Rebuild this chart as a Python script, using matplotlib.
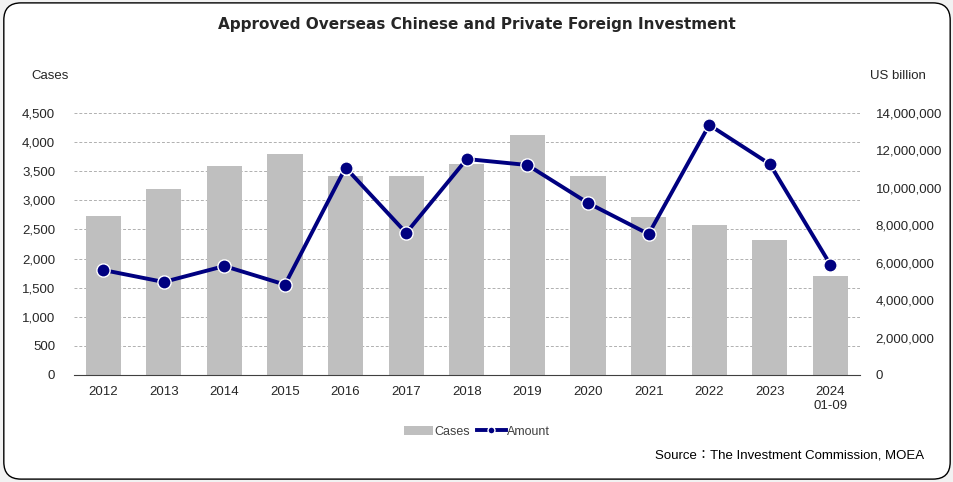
import matplotlib.pyplot as plt
from matplotlib.patches import FancyBboxPatch
from matplotlib.lines import Line2D
from matplotlib.patches import Patch
from matplotlib.ticker import FuncFormatter

# data
years = ["2012", "2013", "2014", "2015", "2016", "2017", "2018",
         "2019", "2020", "2021", "2022", "2023", "2024\n01-09"]
cases = [2738, 3200, 3590, 3797, 3413, 3413, 3625,
         4117, 3410, 2715, 2578, 2320, 1701]
amount = [5610000, 4970000, 5820000, 4830000, 11080000, 7590000, 11540000,
          11220000, 9190000, 7530000, 13360000, 11270000, 5890000]

plt.rcParams['font.family'] = ['Liberation Sans', 'DejaVu Sans']

fig = plt.figure(figsize=(9.54, 4.82), dpi=100)
fig.patch.set_facecolor("#f2f2f2")

# rounded frame
frame = FancyBboxPatch((0.004, 0.006), 0.992, 0.988,
                       boxstyle="round,pad=0,rounding_size=0.018",
                       transform=fig.transFigure, facecolor="white",
                       edgecolor="black", linewidth=1.0, zorder=-10,
                       mutation_aspect=954 / 482)
fig.patches.append(frame)

ax = fig.add_axes([0.0776, 0.222, 0.8234, 0.5436])
x = range(len(years))
ax.bar(x, cases, width=0.58, color="#bfbfbf", zorder=2)
ax.set_ylim(0, 4500)
ax.set_yticks(range(0, 4501, 500))
ax.yaxis.set_major_formatter(FuncFormatter(lambda v, p: f"{int(v):,}"))
ax.set_xlim(-0.48, len(years) - 0.52)
ax.set_xticks(list(x))
ax.set_xticklabels(years)
ax.grid(axis="y", linestyle=(0, (3, 2)), color="#b0b0b0", linewidth=0.7, zorder=0)
for s in ["top", "right", "left"]:
    ax.spines[s].set_visible(False)
ax.spines["bottom"].set_color("#404040")
ax.tick_params(axis="both", length=0, labelsize=9.5, colors="#262626", pad=8)
ax.tick_params(axis="y", pad=13.5)
ax.set_facecolor("none")

ax2 = ax.twinx()
ax2.plot(list(x), amount, color="#000080", linewidth=2.8, marker="o",
         markersize=9.5, markerfacecolor="#000080", markeredgecolor="white",
         markeredgewidth=1.0, zorder=3)
ax2.set_ylim(0, 14000000)
ax2.set_yticks(range(0, 14000001, 2000000))
ax2.yaxis.set_major_formatter(FuncFormatter(lambda v, p: f"{int(v):,}"))
for s in ax2.spines.values():
    s.set_visible(False)
ax2.tick_params(axis="y", length=0, labelsize=9.5, colors="#262626", pad=11.5)

fig.text(0.5, 0.95, "Approved Overseas Chinese and Private Foreign Investment",
         ha="center", va="center", fontsize=11, fontweight="bold",
         color="#262626", family=["DejaVu Sans"])
fig.text(0.052, 0.842, "Cases", ha="center", va="center", fontsize=9.5, color="#262626")
fig.text(0.941, 0.842, "US billion", ha="center", va="center", fontsize=9.5, color="#262626")

handles = [Patch(facecolor="#bfbfbf", label="Cases"),
           Line2D([0], [0], color="#000080", linewidth=2.8, marker="o",
                  markersize=5, markerfacecolor="#000080",
                  markeredgecolor="white", label="Amount")]
fig.legend(handles=handles, loc="center", bbox_to_anchor=(0.5, 0.104), ncol=2,
           frameon=False, fontsize=9, handlelength=2.3, columnspacing=0.6,
           handletextpad=0.1, labelcolor="#404040")

fig.text(0.969, 0.054, "Source\uff1aThe Investment Commission, MOEA",
         ha="right", va="center", fontsize=9.5, color="black",
         family=["Liberation Sans", "Noto Sans CJK TC"])

plt.savefig("out.png", dpi=100, facecolor=fig.get_facecolor())
